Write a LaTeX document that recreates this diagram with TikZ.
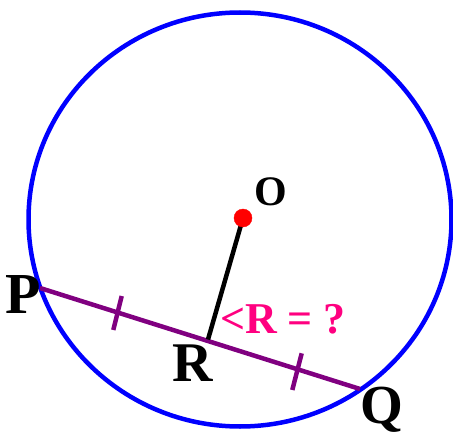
\documentclass[tikz,border=0pt]{standalone}
\usepackage{fontspec}
\setmainfont{Liberation Serif}
\usetikzlibrary{positioning}
\definecolor{chordpurple}{RGB}{128,0,128}
\definecolor{anglepink}{RGB}{255,0,128}

\begin{document}
\begin{tikzpicture}[x=1pt, y=-1pt,
  lbl/.style={font=\bfseries, inner sep=0pt, anchor=base},
  thk/.style={line width=4.5pt}]
\useasboundingbox (0,0) rectangle (453,439);
\coordinate (C) at (240,219.5);
\coordinate (O) at (243,218);
\coordinate (P) at (40,288);
\coordinate (Q) at (360,389);
\coordinate (R) at (208,339.5);
\coordinate (t1a) at (121.7,296);
\coordinate (t1b) at (113.3,330);
\coordinate (t2a) at (301.7,353.3);
\coordinate (t2b) at (292.3,390);
\draw[blue, thk] (C) ellipse [x radius=211.5, y radius=207];
\draw[chordpurple, thk] (P) -- (Q);
\draw[chordpurple, thk] (t1a) -- (t1b);
\draw[chordpurple, thk] (t2a) -- (t2b);
\draw[black, thk] (O) -- (R);
\filldraw[red] (O) circle (9);
\node[lbl, font=\bfseries\fontsize{42}{42}\selectfont] (labO) at (271,205) {O};
\node[lbl, font=\bfseries\fontsize{58}{58}\selectfont] (labP) at (23,313) {P};
\node[lbl, font=\bfseries\fontsize{56}{56}\selectfont] (labR) at (193,381) {R};
\node[lbl, font=\bfseries\fontsize{55}{55}\selectfont] (labQ) at (382,423) {Q};
\node[lbl, anglepink, font=\bfseries\fontsize{44}{44}\selectfont] (ask) at (283,333) {<R = ?};
\end{tikzpicture}
\end{document}
